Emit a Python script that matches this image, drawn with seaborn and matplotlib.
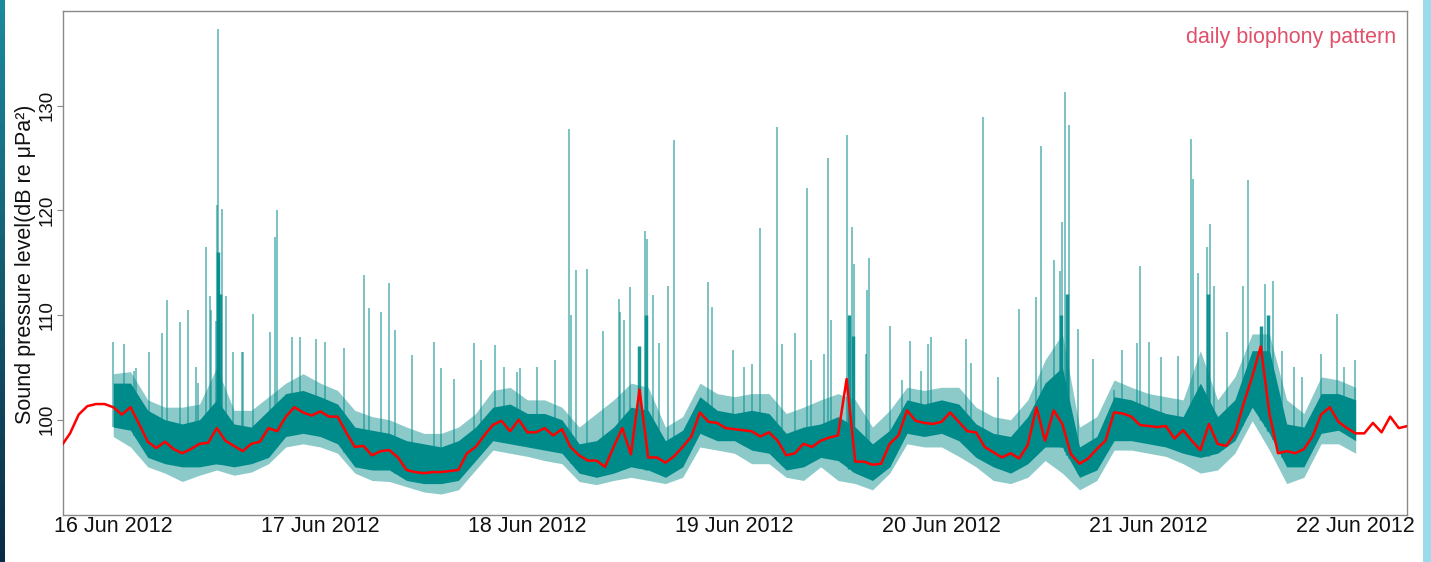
import numpy as np
import pandas as pd
import matplotlib
matplotlib.use("Agg")
import matplotlib.pyplot as plt
import seaborn as sns

# ---------------- data ----------------
# hourly "daily biophony pattern" (hours since 16 Jun 2012 00:00)
red_hours = list(range(-6, 151))
red_db = [97.5, 98.7, 100.5, 101.3, 101.5, 101.5,
          101.2, 100.5, 101.2, 99.6, 97.9, 97.3, 97.9, 97.2, 96.8, 97.2, 97.7, 97.8,
          99.2, 98.0, 97.5, 97.0, 97.7, 97.9, 99.2, 98.9, 100.3, 101.2, 100.7, 100.4,
          100.8, 100.3, 100.3, 98.8, 97.4, 97.5, 96.6, 97.0, 97.1, 96.4, 95.2, 95.0,
          94.9, 95.0, 95.0, 95.1, 95.2, 96.8, 97.4, 98.5, 99.5, 99.9, 98.9, 100.0,
          98.8, 98.8, 99.2, 98.5, 99.1, 97.4, 96.6, 96.1, 96.1, 95.5, 97.4, 99.2,
          96.7, 102.9, 96.4, 96.4, 95.9, 96.5, 97.4, 98.4, 100.7, 99.8, 99.7, 99.2,
          99.1, 99.0, 98.9, 98.4, 98.8, 98.0, 96.6, 96.8, 97.7, 97.4, 98.0, 98.3,
          98.5, 103.9, 96.0, 96.0, 95.7, 95.8, 97.7, 98.5, 100.9, 99.9, 99.7, 99.6,
          99.8, 100.7, 99.8, 98.9, 98.8, 97.4, 96.9, 96.4, 96.8, 96.3, 97.6, 101.2,
          98.0, 100.9, 99.6, 96.7, 95.8, 96.3, 97.2, 98.0, 100.7, 100.6, 100.3, 99.5,
          99.4, 99.3, 99.4, 98.2, 99.0, 98.0, 97.1, 99.6, 97.7, 97.5, 98.7, 101.5,
          104.1, 107.0, 100.6, 96.8, 97.0, 96.8, 97.2, 98.4, 100.5, 101.2, 99.8, 99.2,
          98.7, 98.7, 99.7, 98.8, 100.3, 99.2, 99.4]

# measured sound pressure level: envelope of the dense record, every 2 hours
band_hours = list(range(0, 145, 2))
core_hi = [103.5, 103.5, 100.9, 100.0, 99.6, 100.0, 101.9, 99.6, 99.3, 100.9,
           102.5, 102.8, 102.2, 101.5, 99.3, 99.0, 98.7, 98.0, 97.7, 97.4,
           98.0, 99.3, 101.2, 101.5, 100.6, 100.6, 100.0, 97.7, 98.0, 99.3,
           101.2, 100.9, 98.0, 99.0, 102.2, 100.9, 100.6, 100.9, 100.6, 98.7,
           99.3, 99.6, 100.3, 99.3, 97.7, 99.0, 101.9, 101.5, 101.9, 101.5,
           99.6, 98.7, 98.4, 100.3, 103.5, 105.0, 97.4, 98.4, 102.2, 101.9,
           101.2, 100.6, 100.3, 103.5, 100.3, 101.9, 106.6, 106.6, 99.6, 99.3,
           102.5, 102.5, 101.9]
core_lo = [99.3, 99.0, 96.4, 95.8, 95.5, 95.5, 95.8, 95.5, 95.8, 96.4,
           98.4, 98.7, 98.4, 97.7, 95.5, 95.2, 95.2, 94.2, 93.9, 93.9,
           94.2, 96.1, 98.0, 97.7, 97.4, 97.1, 96.8, 94.9, 94.5, 94.9,
           95.5, 95.2, 94.5, 95.5, 98.7, 98.0, 98.0, 97.1, 96.8, 95.2,
           95.5, 96.4, 96.1, 94.9, 94.2, 95.5, 98.7, 98.4, 98.7, 98.0,
           96.4, 95.5, 94.9, 95.8, 97.4, 97.4, 94.5, 95.2, 98.0, 98.0,
           97.7, 97.4, 96.8, 96.4, 96.8, 98.0, 101.2, 98.7, 95.5, 95.5,
           98.7, 99.0, 98.0]
light_hi = [104.4, 104.6, 101.9, 101.2, 101.2, 101.5, 105.0, 100.9, 100.9, 102.2,
            103.5, 104.4, 103.5, 102.8, 100.9, 100.3, 100.0, 99.3, 98.7, 98.7,
            99.3, 100.6, 102.8, 103.1, 101.9, 101.9, 101.2, 99.3, 100.6, 101.9,
            103.5, 103.1, 99.3, 100.3, 103.5, 102.5, 102.2, 102.5, 102.5, 100.6,
            101.2, 101.9, 102.5, 101.9, 99.3, 100.9, 103.1, 102.8, 103.1, 103.1,
            101.2, 100.3, 100.0, 101.9, 105.7, 108.2, 99.3, 100.3, 103.8, 103.1,
            102.5, 102.2, 101.9, 106.6, 101.9, 104.1, 108.2, 108.2, 101.9, 100.6,
            104.1, 103.8, 103.1]
light_lo = [98.4, 97.4, 95.5, 94.9, 94.1, 94.7, 95.2, 94.7, 95.0, 95.8,
            97.4, 97.7, 97.4, 96.8, 94.9, 94.2, 94.1, 93.6, 93.1, 92.9,
            93.3, 95.2, 97.1, 96.8, 96.5, 96.1, 95.8, 94.1, 93.8, 94.2,
            94.5, 94.2, 93.9, 94.5, 97.4, 97.1, 96.8, 95.8, 95.8, 94.5,
            94.2, 95.5, 94.2, 93.9, 93.3, 94.9, 97.7, 97.4, 97.4, 96.5,
            95.5, 94.2, 93.9, 94.5, 96.1, 94.9, 93.3, 94.2, 97.1, 97.1,
            96.8, 96.5, 95.8, 94.9, 95.2, 96.8, 99.9, 97.1, 93.9, 94.5,
            97.7, 97.7, 96.8]

# isolated transients (hour, peak dB)
spike_hours = [0.0, 1.3, 2.4, 2.6, 4.1, 5.6, 6.2, 7.7, 8.7, 9.6, 9.8, 10.8, 11.2, 11.3,
               11.9, 12.0, 12.1, 12.3, 12.6, 13.1, 13.9, 14.9, 15.1, 16.2, 18.2, 18.7,
               19.0, 20.7, 21.6, 23.5, 24.5, 26.8, 29.1, 29.7, 31.0, 32.0, 32.7, 34.6,
               37.2, 38.0, 39.5, 41.8, 42.6, 44.2, 45.3, 46.8, 47.2, 49.1, 51.2, 52.8,
               53.1, 53.6, 54.9, 56.8, 58.6, 58.7, 59.2, 59.9, 61.6, 61.9, 62.6, 63.2,
               64.3, 65.0, 68.9, 69.4, 71.8, 73.1, 74.0, 75.0, 76.9, 77.5, 79.0, 80.4,
               80.9, 82.4, 82.9, 83.2, 85.1, 85.6, 85.9, 87.2, 87.4, 87.6, 90.0, 91.4,
               92.4, 93.6, 94.4, 94.8, 98.8, 99.4, 100.8, 102.6, 105.0, 107.0, 107.5,
               109.0, 109.7, 110.0, 110.3, 110.8, 111.8, 113.6, 116.0, 116.9, 118.7,
               119.0, 120.0, 121.4, 123.4, 124.9, 125.1, 125.7, 126.8, 127.1, 127.6,
               129.1, 130.9, 131.5, 133.5, 134.4, 135.5, 136.9, 137.8, 140.0, 141.8,
               142.6, 143.9]
spike_db = [107.4, 107.2, 104.7, 104.9, 106.5, 108.3, 111.4, 109.3, 110.5, 105.0, 103.5,
            116.5, 111.8, 110.5, 109.4, 120.5, 137.3, 115.5, 120.1, 111.8, 106.5, 106.5,
            106.5, 110.1, 108.4, 117.5, 120.0, 107.9, 107.9, 107.7, 107.4, 106.9, 113.8,
            110.7, 110.3, 113.1, 108.6, 106.2, 107.4, 104.9, 103.9, 107.3, 105.7, 107.1,
            105.0, 104.6, 104.9, 105.0, 105.7, 127.8, 110.0, 114.3, 114.4, 108.5, 111.5,
            110.3, 109.5, 112.7, 118.0, 117.3, 111.9, 107.3, 112.8, 126.7, 113.2, 110.8,
            106.7, 105.0, 105.3, 118.3, 128.0, 107.2, 108.3, 122.1, 105.7, 106.3, 125.0,
            109.5, 127.2, 118.4, 114.9, 106.3, 112.4, 115.5, 109.0, 103.8, 107.5, 104.7,
            107.2, 107.9, 107.7, 105.4, 128.9, 104.1, 110.6, 111.7, 126.2, 115.3, 114.2,
            118.9, 131.3, 128.2, 108.7, 105.8, 102.8, 106.7, 107.3, 114.7, 107.4, 106.0,
            106.1, 126.8, 123.0, 114.0, 116.5, 118.7, 112.8, 108.4, 112.8, 122.9, 113.0,
            113.3, 106.6, 105.0, 104.1, 106.3, 110.1, 105.0, 105.7]

# short dense bursts (hour, top of the dense part, dB)
burst_hours = [12.1, 12.4, 60.9, 61.7, 85.3, 85.7, 109.9, 110.5, 126.9, 133.0, 133.8]
burst_db = [116.0, 112.0, 107.0, 110.0, 110.0, 108.0, 110.0, 112.0, 112.0, 109.0, 110.0]

tick_hours = [0, 24, 48, 72, 96, 120, 144]
tick_labels = ["16 Jun 2012", "17 Jun 2012", "18 Jun 2012", "19 Jun 2012",
               "20 Jun 2012", "21 Jun 2012", "22 Jun 2012"]
y_ticks = [100, 110, 120, 130]

# ---------------- styling ----------------
sns.set_theme(style="white")
plt.rcParams["font.family"] = ["Liberation Sans", "DejaVu Sans"]

TEAL = "#008B8B"
W, H = 1431, 562
fig = plt.figure(figsize=(W / 100, H / 100), dpi=100)

# slide edge strips
lax = fig.add_axes([0, 0, 5 / W, 1])
lax.imshow(np.linspace(0, 1, 50).reshape(-1, 1), aspect="auto",
           cmap=matplotlib.colors.LinearSegmentedColormap.from_list("e", ["#1b8a9c", "#0c2c45"]))
lax.axis("off")
rax = fig.add_axes([1423 / W, 0, 8 / W, 1])
rax.set_facecolor("#9adcec")
rax.set_xticks([]); rax.set_yticks([])
for s in rax.spines.values():
    s.set_visible(False)

ax = fig.add_axes([63 / W, 1 - 515 / H, (1407 - 63) / W, (515 - 10.5) / H])

bh = np.array(band_hours, dtype=float)
ax.fill_between(bh, light_lo, light_hi, color=TEAL, alpha=0.45, lw=0, zorder=1)
base = np.interp(spike_hours, bh, core_lo)
ax.vlines(spike_hours, base, spike_db, color=TEAL, alpha=0.65, lw=1.1, zorder=2)
ax.fill_between(bh, core_lo, core_hi, color=TEAL, alpha=1.0, lw=0, zorder=3)
bbase = np.interp(burst_hours, bh, core_lo)
ax.vlines(burst_hours, bbase, burst_db, color=TEAL, alpha=0.9, lw=2.5, zorder=3)

red_df = pd.DataFrame({"hour": red_hours, "db": red_db})
sns.lineplot(data=red_df, x="hour", y="db", color="#FF0000", lw=1.8, ax=ax, zorder=5)

ax.set_xlim(-5.82, 149.95)
ax.set_ylim(90.9, 139.1)
ax.set_xticks(tick_hours)
ax.set_xticklabels(tick_labels, fontsize=15.5, color="#111111")
ax.set_yticks(y_ticks)
ax.set_yticklabels([str(v) for v in y_ticks], fontsize=13.5, rotation=90,
                   va="center", color="#111111")
ax.tick_params(axis="x", length=0, pad=1)
ax.tick_params(axis="y", length=4, width=0.8, color="#888888", pad=1, left=True)
ax.set_xlabel("")
ax.set_ylabel("")
for s in ax.spines.values():
    s.set_color("#8a8a8a")
    s.set_linewidth(1.0)

fig.text(25.5 / W, 1 - 264 / H, "Sound pressure level(dB re μPa²)", rotation=90,
         ha="center", va="center", fontsize=15.5, color="#111111")
fig.text(1396 / W, 1 - 38 / H, "daily biophony pattern", ha="right", va="center",
         fontsize=15.5, color="#E0506A")

fig.savefig("out.png", dpi=100)
